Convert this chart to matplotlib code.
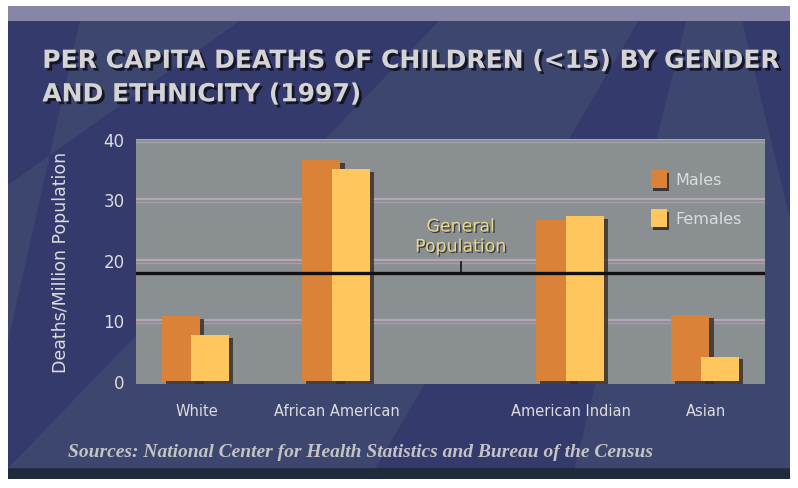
import matplotlib.pyplot as plt
import matplotlib.patheffects as pe
from matplotlib.patches import Rectangle, Polygon, Patch

# data
groups = ['White', 'African American', 'American Indian', 'Asian']
males = [10.7, 36.5, 26.6, 10.8]
females = [7.6, 35.0, 27.2, 4.0]
general_pop = 17.8
yticks = [0, 10, 20, 30, 40]

# layout (uneven spacing as in the original)
group_pos = [1.6, 5.3, 11.45, 15.0]

navy = '#353a6c'
male_c = '#d98238'
female_c = '#ffc65e'
txt_c = '#dcdcdc'

fig = plt.figure(figsize=(7.98, 4.89), dpi=100)
fig.patch.set_facecolor('white')

# framed background
fig.patches.append(Rectangle((0.010, 0.018), 0.980, 0.968, transform=fig.transFigure,
                             facecolor=navy, edgecolor='none', zorder=-10))
fig.patches.append(Rectangle((0.010, 0.955), 0.980, 0.031, transform=fig.transFigure,
                             facecolor='#9c9ab6', edgecolor='none', alpha=0.8, zorder=-9))
fig.patches.append(Rectangle((0.010, 0.018), 0.980, 0.022, transform=fig.transFigure,
                             facecolor='#1f2a3a', edgecolor='none', zorder=-9))
# faded diagonal stripes
for pts in [[(0.010, 0.04), (0.47, 0.04), (0.80, 0.955), (0.55, 0.955)],
            [(0.010, 0.30), (0.010, 0.62), (0.30, 0.955), (0.10, 0.955)],
            [(0.72, 0.04), (0.99, 0.04), (0.99, 0.55), (0.93, 0.955), (0.86, 0.955)]]:
    fig.patches.append(Polygon(pts, closed=True, transform=fig.transFigure,
                               facecolor='#4f6478', edgecolor='none', alpha=0.3, zorder=-8))

ax = fig.add_axes([0.170, 0.213, 0.789, 0.501])
ax.set_facecolor('#8a8f92')
ax.set_xlim(0, 16.55)
ax.set_ylim(-0.5, 40)

for y in yticks[1:]:
    ax.axhline(y, color='#b7a3b3', lw=1.6, zorder=1)
    ax.axhline(y - 0.45, color='#9fa2a8', lw=1.0, zorder=1)

shadow = [pe.SimplePatchShadow(offset=(3, -2), shadow_rgbFace='#3b2a22', alpha=0.8), pe.Normal()]
m_x = [p - 0.42 for p in group_pos]
f_x = [p + 0.36 for p in group_pos]
mb = ax.bar(m_x, males, width=1.0, color=male_c, edgecolor='none', zorder=3)
fb = ax.bar(f_x, females, width=1.0, color=female_c, edgecolor='none', zorder=4)
for b in list(mb) + list(fb):
    b.set_path_effects(shadow)

ax.axhline(general_pop, color='#111111', lw=2.4, zorder=5)
ax.plot([8.55, 8.55], [general_pop, general_pop + 1.8], color='#111111', lw=1.2, zorder=5)
ax.text(8.55, general_pop + 2.9, 'General\nPopulation', ha='center', va='bottom',
        fontsize=12.5, color='#e6d890', linespacing=1.15, zorder=6,
        path_effects=[pe.withSimplePatchShadow(offset=(1, -1), shadow_rgbFace='#333333', alpha=0.9)])

for s in ax.spines.values():
    s.set_visible(False)
ax.set_xticks(group_pos)
ax.set_xticklabels(groups, fontsize=10.5, color=txt_c)
ax.set_yticks(yticks)
ax.set_yticklabels([str(v) for v in yticks], fontsize=12, color=txt_c)
ax.tick_params(length=0)
ax.tick_params(axis='x', pad=14)
ax.tick_params(axis='y', pad=8)
ax.set_ylabel('Deaths/Million Population', fontsize=12.5, color=txt_c, labelpad=24)

handles = [Patch(facecolor=male_c, label='Males'), Patch(facecolor=female_c, label='Females')]
leg = ax.legend(handles=handles, loc='upper left', bbox_to_anchor=(0.795, 0.93), frameon=False,
                handlelength=1.0, handleheight=1.3, labelspacing=1.35, handletextpad=0.55,
                fontsize=11.5)
for t in leg.get_texts():
    t.set_color(txt_c)
for h in leg.legend_handles:
    h.set_path_effects([pe.SimplePatchShadow(offset=(2, -2), shadow_rgbFace='#2a2020', alpha=0.8), pe.Normal()])

title_fx = [pe.withSimplePatchShadow(offset=(2, -2), shadow_rgbFace='#111122', alpha=0.9)]
fig.text(0.053, 0.898, 'PER CAPITA DEATHS OF CHILDREN (<15) BY GENDER\nAND ETHNICITY (1997)',
         ha='left', va='top', fontsize=18, fontweight='bold', color='#d4d4d4',
         linespacing=1.5, path_effects=title_fx)

fig.text(0.085, 0.075, 'Sources: National Center for Health Statistics and Bureau of the Census',
         ha='left', va='center', fontsize=14, style='italic', fontweight='bold',
         family='Liberation Serif', color='#c4c4c4')

fig.savefig('out.png', dpi=100, facecolor=fig.get_facecolor())
